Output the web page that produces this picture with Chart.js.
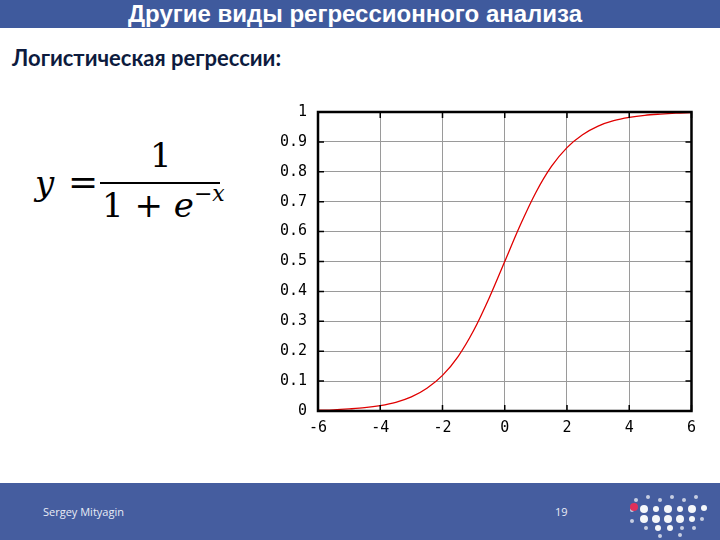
<!DOCTYPE html>
<html>
<head>
<meta charset="utf-8">
<script src="https://cdn.jsdelivr.net/npm/chart.js@4.4.0/dist/chart.umd.min.js"></script>
<style>
  html, body { margin:0; padding:0; width:720px; height:540px; background:#ffffff; overflow:hidden; }
  #slide { position:relative; width:720px; height:540px; }
  #titlebar { position:absolute; left:0; top:0; width:720px; height:28px; background:#3f5a9d; }
  #title { position:absolute; left:0; top:1px; width:710px; text-align:center; color:#ffffff;
           font-family:"Liberation Sans", Arial, sans-serif; font-weight:bold; font-size:24px; line-height:26px; }
  #subtitle { position:absolute; left:12px; top:44px; color:#0d1b3e; font-family:Lato, "Open Sans", sans-serif;
              font-weight:bold; font-size:22px; }
  #formula { position:absolute; left:30px; top:135px; font-family:"DejaVu Serif", "Liberation Serif", serif; color:#000; }
  #footer { position:absolute; left:0; top:483px; width:720px; height:57px; background:#455d9f; }
  #author { position:absolute; left:43px; top:504px; color:#e8ecf6; font-family:"Open Sans", sans-serif; font-size:11px; }
  #page { position:absolute; left:555px; top:504px; color:#e8ecf6; font-family:"Open Sans", sans-serif; font-size:11px; }
  #chartbox { position:absolute; left:260px; top:92px; width:444px; height:348px; }
  .dot { position:absolute; border-radius:50%; background:#ffffff; }
</style>
</head>
<body>
<div id="slide">
  <div id="titlebar"></div>
  <div id="title">Другие виды регрессионного анализа</div>
  <div id="subtitle">Логистическая регрессии:</div>
  <div id="formula">
    <span style="position:absolute;left:5px;top:28px;font-size:34px;font-style:italic;">y</span>
    <span style="position:absolute;left:38px;top:26px;font-size:36px;">=</span>
    <span style="position:absolute;left:120px;top:0px;font-size:34px;">1</span>
    <div style="position:absolute;left:70px;top:47px;width:120px;height:2px;background:#000;"></div>
    <span style="position:absolute;left:72px;top:50px;font-size:34px;white-space:nowrap;">1 + <i>e</i><sup style="font-size:22px;position:relative;top:-4px;">−<i>x</i></sup></span>
  </div>
  <div id="chartbox"><canvas id="c" width="444" height="348"></canvas></div>
  <div id="footer"></div>
  <div id="author">Sergey Mityagin</div>
  <div id="page">19</div>
  <div id="logo"></div>
</div>
<script>
// ---- data ----
const xValues = [-6, -5.5, -5, -4.5, -4, -3.5, -3, -2.5, -2, -1.5, -1, -0.5, 0, 0.5, 1, 1.5, 2, 2.5, 3, 3.5, 4, 4.5, 5, 5.5, 6];
const yValues = [0.0025, 0.004, 0.007, 0.011, 0.018, 0.029, 0.047, 0.076, 0.119, 0.182, 0.269, 0.378, 0.5, 0.622, 0.731, 0.818, 0.881, 0.924, 0.953, 0.971, 0.982, 0.989, 0.993, 0.996, 0.998];
const xTickLabels = ["-6", "-4", "-2", "0", "2", "4", "6"];
const yTickLabels = ["0", "0.1", "0.2", "0.3", "0.4", "0.5", "0.6", "0.7", "0.8", "0.9", "1"];

// logo dots (decorative)
const logoDots = [
  [636,500,2],[648,497,2],[660,500,2],[672,497,2],[684,500,2],[696,497,2],
  [632,510,2],[644,509,4],[656,509,3],[668,509,4],[680,509,3],[692,509,4],[704,508,3],
  [644,519,4],[656,519,4],[668,519,4],[680,519,4],[692,519,3],[702,519,2],
  [632,521,2],[646,528,2],[658,528,3],[670,528,3],[682,528,2],[694,528,2],
  [660,536,2],[680,535,2]
];
const logo = document.getElementById('logo');
logoDots.forEach(d => {
  const e = document.createElement('div');
  e.className = 'dot';
  e.style.left = (d[0]-d[2]) + 'px'; e.style.top = (d[1]-d[2]) + 'px';
  e.style.width = (2*d[2]) + 'px'; e.style.height = (2*d[2]) + 'px';
  e.style.opacity = d[2] > 2 ? 0.95 : 0.7;
  logo.appendChild(e);
});
const red = document.createElement('div');
red.className = 'dot';
red.style.cssText = 'left:630px;top:503px;width:8px;height:8px;background:#e0305a;';
logo.appendChild(red);

const frame = {
  id: 'frame',
  afterDatasetsDraw(chart) {
    const {ctx, chartArea: a, scales} = chart;
    ctx.save();
    ctx.strokeStyle = '#000';
    ctx.lineWidth = 1.5;
    ctx.beginPath();
    scales.y.ticks.forEach(t => {
      const p = scales.y.getPixelForValue(t.value);
      ctx.moveTo(a.left, p); ctx.lineTo(a.left + 6, p);
      ctx.moveTo(a.right, p); ctx.lineTo(a.right - 6, p);
    });
    scales.x.ticks.forEach(t => {
      const p = scales.x.getPixelForValue(t.value);
      ctx.moveTo(p, a.bottom); ctx.lineTo(p, a.bottom - 6);
      ctx.moveTo(p, a.top); ctx.lineTo(p, a.top + 6);
    });
    ctx.stroke();
    ctx.lineWidth = 2.5;
    ctx.strokeRect(a.left, a.top, a.right - a.left, a.bottom - a.top);
    ctx.restore();
  }
};

const monoFont = { family: '"DejaVu Sans Mono", "Liberation Mono", monospace', size: 15 };

new Chart(document.getElementById('c'), {
  type: 'line',
  data: {
    datasets: [{
      data: xValues.map((x, i) => ({ x: x, y: yValues[i] })),
      borderColor: '#e00000',
      borderWidth: 1.3,
      pointRadius: 0,
      cubicInterpolationMode: 'monotone',
      fill: false
    }]
  },
  options: {
    responsive: false,
    animation: false,
    devicePixelRatio: 1,
    layout: { padding: { top: 6, right: 6, left: 0, bottom: 0 } },
    plugins: { legend: { display: false }, tooltip: { enabled: false } },
    scales: {
      x: {
        type: 'linear', min: -6, max: 6,
        afterFit: s => { s.height = 29; },
        grid: { color: '#9a9a9a', lineWidth: 1, drawTicks: false },
        border: { display: false },
        ticks: {
          stepSize: 2, padding: 8, color: '#000', font: monoFont,
          callback: (v, i) => xTickLabels[i]
        }
      },
      y: {
        min: 0, max: 1,
        afterFit: s => { s.width = 58; },
        grid: { color: '#9a9a9a', lineWidth: 1, drawTicks: false },
        border: { display: false },
        ticks: {
          stepSize: 0.1, padding: 11, color: '#000', font: monoFont,
          callback: (v, i) => yTickLabels[i]
        }
      }
    }
  },
  plugins: [frame]
});
</script>
</body>
</html>
